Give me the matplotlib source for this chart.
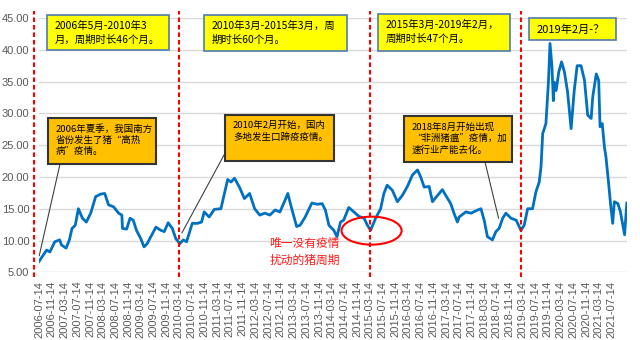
import pandas as pd
import matplotlib
matplotlib.use("Agg")
import matplotlib.pyplot as plt
import matplotlib.dates as mdates
from matplotlib.patches import Rectangle, Ellipse

plt.rcParams['font.family'] = ['Noto Sans CJK SC', 'DejaVu Sans']

# weekly hog price, sampled at the turning points (yuan/kg)
dates = [
    "2006-07-14", "2006-09-25", "2006-10-26", "2006-12-12", "2007-01-28", "2007-02-14",
    "2007-03-30", "2007-05-01", "2007-05-26", "2007-06-26", "2007-07-26", "2007-09-03",
    "2007-10-10", "2007-11-21", "2008-01-07", "2008-02-24", "2008-04-03", "2008-05-10",
    "2008-06-27", "2008-08-14", "2008-09-14", "2008-09-20", "2008-10-30", "2008-12-01",
    "2009-01-01", "2009-02-01", "2009-03-14", "2009-04-14", "2009-05-14", "2009-06-28",
    "2009-08-06", "2009-09-23", "2009-10-25", "2009-12-01", "2010-01-10", "2010-02-12",
    "2010-03-23", "2010-04-25", "2010-05-26", "2010-07-20", "2010-09-07", "2010-10-17",
    "2010-11-11", "2010-12-29", "2011-02-16", "2011-04-20", "2011-06-24", "2011-07-26",
    "2011-08-28", "2011-10-14", "2011-12-01", "2012-01-20", "2012-03-08", "2012-04-26",
    "2012-06-14", "2012-08-01", "2012-09-20", "2012-11-05", "2012-12-23", "2013-01-19",
    "2013-02-26", "2013-04-14", "2013-05-17", "2013-07-05", "2013-09-07", "2013-10-26",
    "2013-12-14", "2014-01-14", "2014-02-17", "2014-04-05", "2014-05-05", "2014-06-08",
    "2014-07-08", "2014-08-26", "2014-10-14", "2014-12-01", "2015-01-20", "2015-02-20",
    "2015-03-23", "2015-05-10", "2015-06-27", "2015-07-28", "2015-08-28", "2015-10-17",
    "2015-12-04", "2016-01-21", "2016-03-09", "2016-04-26", "2016-06-14", "2016-07-14",
    "2016-08-17", "2016-10-03", "2016-11-04", "2016-12-23", "2017-02-07", "2017-03-11",
    "2017-04-28", "2017-05-29", "2017-07-01", "2017-07-17", "2017-09-20", "2017-11-08",
    "2018-01-11", "2018-02-11", "2018-03-14", "2018-04-14", "2018-06-01", "2018-07-04",
    "2018-08-04", "2018-09-07", "2018-10-08", "2018-11-26", "2019-01-14", "2019-03-01",
    "2019-04-01", "2019-05-04", "2019-06-20", "2019-07-23", "2019-08-23", "2019-09-09",
    "2019-09-25", "2019-10-26", "2019-11-20", "2019-12-04", "2019-12-23", "2020-01-05",
    "2020-01-14", "2020-02-01", "2020-02-26", "2020-03-24", "2020-04-20", "2020-05-20",
    "2020-06-23", "2020-07-23", "2020-08-20", "2020-09-26", "2020-10-29", "2020-11-29",
    "2021-01-01", "2021-01-16", "2021-02-19", "2021-03-14", "2021-03-27", "2021-04-17",
    "2021-05-08", "2021-05-23", "2021-06-17", "2021-07-04", "2021-07-26", "2021-08-11",
    "2021-09-14", "2021-10-08", "2021-11-17", "2021-12-08",
]
prices = [
    6.7, 8.5, 8.2, 9.8, 10.1, 9.3,
    8.8, 10.1, 11.9, 12.4, 15.0, 13.5,
    12.9, 14.3, 16.9, 17.3, 17.4, 15.6,
    15.3, 14.3, 14.0, 11.9, 11.8, 13.5,
    13.2, 11.6, 10.3, 9.0, 9.5, 10.9,
    12.1, 11.6, 11.4, 12.8, 11.9, 10.3,
    9.5, 10.1, 9.8, 12.7, 12.7, 12.9,
    14.5, 13.7, 14.9, 15.0, 19.6, 19.2,
    19.8, 18.4, 16.6, 17.4, 15.0, 14.0,
    14.3, 14.0, 14.8, 14.5, 16.3, 17.4,
    15.0, 12.2, 12.4, 13.7, 15.9, 15.7,
    15.8, 14.8, 12.4, 11.6, 10.6, 12.9,
    13.2, 15.2, 14.5, 13.8, 13.5, 12.4,
    11.6, 13.5, 15.0, 17.4, 18.7, 17.9,
    16.1, 17.1, 18.5, 20.3, 21.1, 20.0,
    18.4, 18.5, 16.1, 17.1, 18.0, 17.1,
    15.8, 14.3, 12.9, 13.7, 14.5, 14.3,
    14.8, 15.0, 13.2, 10.6, 10.1, 11.4,
    11.9, 13.5, 14.3, 13.5, 13.2, 11.6,
    12.4, 15.0, 15.0, 17.7, 19.2, 21.6,
    26.8, 28.4, 35.2, 41.0, 37.3, 32.0,
    34.9, 33.6, 36.5, 38.1, 36.5, 33.4,
    27.6, 33.6, 37.5, 37.5, 35.2, 29.7,
    29.2, 32.6, 36.2, 35.2, 27.9, 28.4,
    24.7, 23.1, 19.0, 16.0, 12.7, 16.1,
    15.8, 14.5, 10.9, 15.9,
]

# cycle boundaries (red dashed lines)
cycle_starts = ["2006-05-29", "2010-03-18", "2015-03-14", "2019-03-04"]

cycle_notes = [
    "2006年5月-2010年3\n月，周期时长46个月。",
    "2010年3月-2015年3月，周\n期时长60个月。",
    "2015年3月-2019年2月，\n周期时长47个月。",
    "2019年2月-？",
]
epidemic_notes = [
    "2006年夏季，我国南方\n省份发生了猪“高热\n病”疫情。",
    "2010年2月开始，国内\n多地发生口蹄疫疫情。",
    "2018年8月开始出现\n“非洲猪瘟”疫情，加\n速行业产能去化。",
]
# where each epidemic note points on the price line
epidemic_points = [("2006-07-16", 7.6), ("2010-04-12", 11.2), ("2018-07-30", 13.5)]

x = pd.to_datetime(dates)

fig = plt.figure(figsize=(6.4, 3.4), dpi=100)
ax = fig.add_axes([39 / 640, 1 - 272.3 / 340, 588 / 640, 254.3 / 340])

ax.plot(x, prices, color="#0070C0", lw=2, solid_joinstyle="round", zorder=3)

for d in pd.to_datetime(cycle_starts):
    ax.plot([d, d], [4.3, 46.1], color="#FF0000", lw=1.5,
            linestyle=(0, (2.2, 1.4)), clip_on=False, zorder=4)

ax.set_xlim(pd.Timestamp("2006-07-14"), pd.Timestamp("2021-12-10"))
ax.set_ylim(5, 45)
ax.set_yticks(range(5, 46, 5))
ax.set_yticklabels([f"{v:.2f}" for v in range(5, 46, 5)],
                   family="Liberation Sans", fontsize=8, color="#595959")

xt = pd.date_range("2006-07-01", "2021-07-01", freq="4MS") + pd.Timedelta(days=13)
ax.set_xticks(xt)
ax.set_xticklabels([d.strftime("%Y-%m-%d") for d in xt], rotation=90,
                   family="Liberation Sans", fontsize=8, color="#595959")
ax.tick_params(length=0)
ax.tick_params(axis="y", pad=7)
ax.tick_params(axis="x", pad=6)
ax.grid(axis="y", color="#D9D9D9", lw=1)
ax.set_axisbelow(True)
for s in ax.spines.values():
    s.set_visible(False)


def note_box(left, top, right, bottom, text, face, edge, lw, fs, ls):
    # box given in figure pixels from the top-left corner
    fig.add_artist(Rectangle((left / 640, 1 - bottom / 340), (right - left) / 640,
                             (bottom - top) / 340, transform=fig.transFigure,
                             facecolor=face, edgecolor=edge, lw=lw, zorder=5))
    fig.text((left + 8) / 640, 1 - (top + 6) / 340, text, ha="left", va="top",
             fontsize=fs, linespacing=ls, color="black", zorder=6)


yellow_boxes = [(47, 15, 169, 50), (204, 15, 347, 51), (378, 14, 510, 51), (529, 15, 616, 40)]
for (l, t, r, b), txt in zip(yellow_boxes, cycle_notes):
    if "？" in txt:
        note_box(l, t + 3, r, b, txt, "#FFFF00", "#4F7BAE", 1.2, 8, 1.3)
    else:
        note_box(l, t, r, b, txt, "#FFFF00", "#4F7BAE", 1.2, 7.5, 1.45)

orange_boxes = [(48, 118, 156, 164), (225, 115, 334, 161), (404, 116, 512, 162)]
line_starts = [(60, 164), (224, 155), (485, 162)]
for (l, t, r, b), txt, (px, py), (pd_, pv) in zip(orange_boxes, epidemic_notes,
                                                   line_starts, epidemic_points):
    note_box(l, t, r, b, txt, "#FFC000", "#333333", 1.5, 6.8, 1.3)
    ax.annotate("", xy=(pd.Timestamp(pd_), pv), xycoords="data",
                xytext=(px, 340 - py), textcoords="figure pixels",
                arrowprops=dict(arrowstyle="-", color="#404040", lw=0.8,
                                shrinkA=0, shrinkB=0), zorder=2)

# the one cycle without an epidemic shock
center = mdates.date2num(pd.Timestamp("2015-04-01"))
ax.add_patch(Ellipse((center, 11.55), 575, 4.4, fill=False,
                     edgecolor="#FF0000", lw=1.5, zorder=4))
ax.text(pd.Timestamp("2013-07-01"), 8.2, "唯一没有疫情\n扰动的猪周期",
        ha="center", va="center", color="#FF1A1A", fontsize=8.5, linespacing=1.3)

fig.savefig("out.png", dpi=100)
